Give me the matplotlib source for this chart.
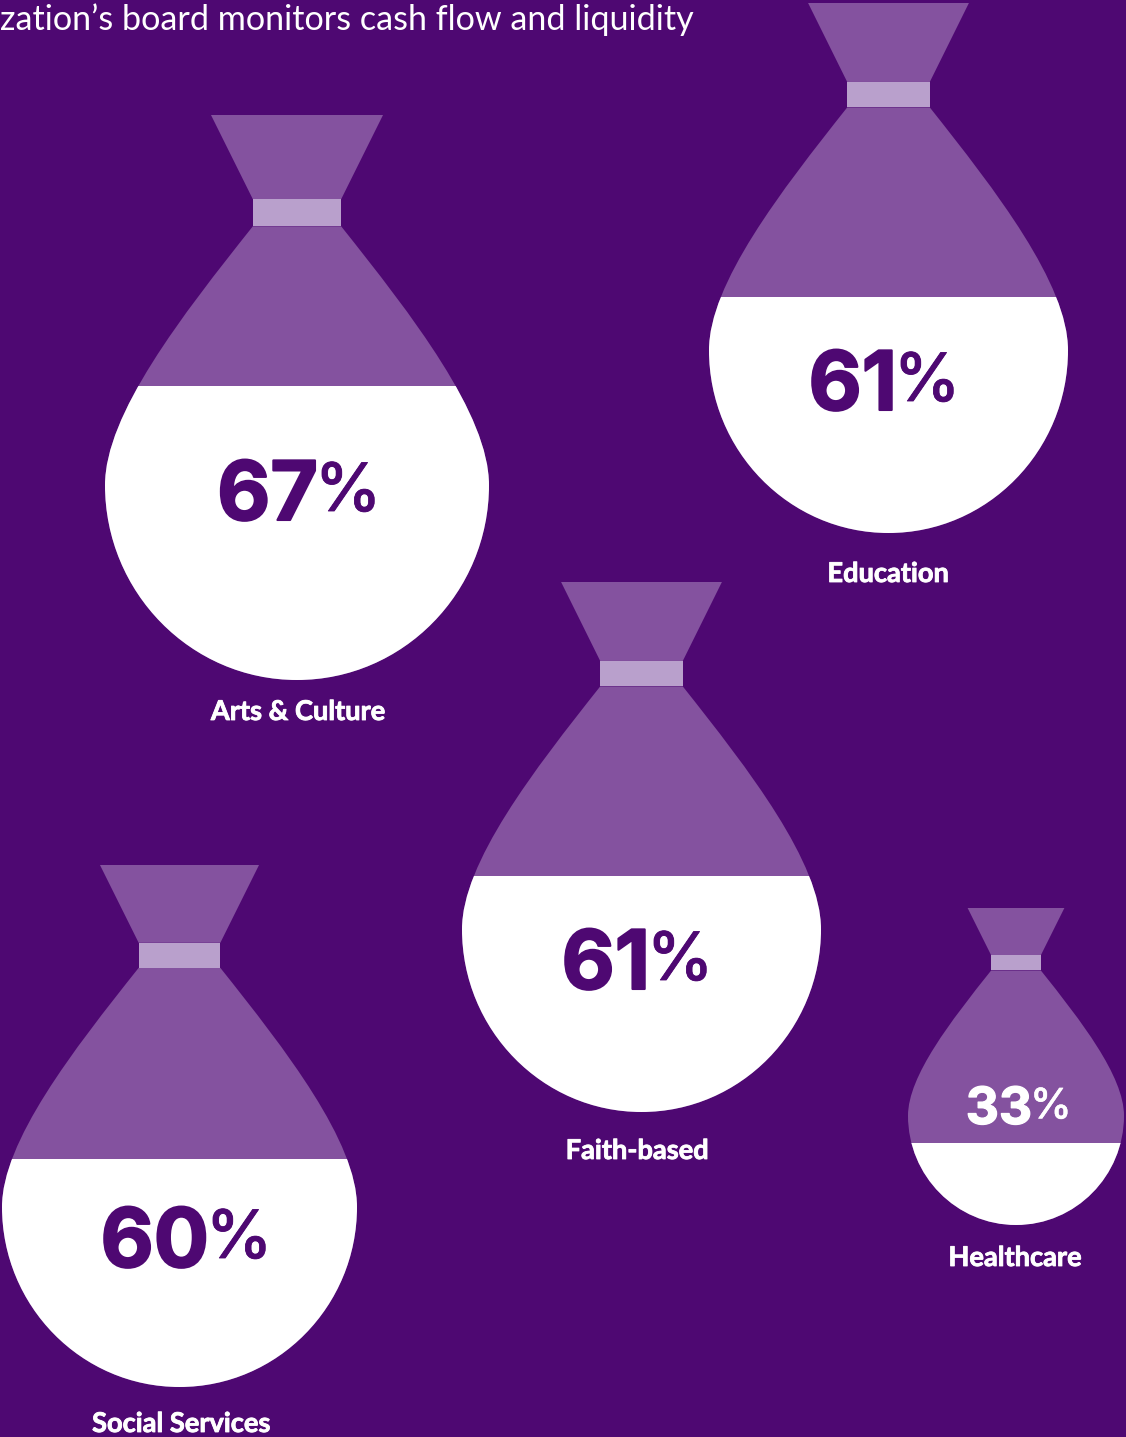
import matplotlib
matplotlib.use("Agg")
import matplotlib.pyplot as plt
import matplotlib.patheffects as pe
from matplotlib.patches import PathPatch, Rectangle, Polygon
from matplotlib.path import Path

# sectors and their percentages
sectors = ["Arts & Culture", "Education", "Faith-based", "Social Services", "Healthcare"]
percent = [67, 61, 61, 60, 33]
# share of the bag body (below the tie) that is filled white
fill_share = [0.648, 0.554, 0.554, 0.545, 0.324]

# bag boxes in page pixels
bag_left = [105, 709, 462, 2, 908]
bag_top = [115, 3, 582, 865, 908]
bag_width = [384, 359, 359, 355, 216]
bag_height = [565, 530, 530, 522, 317]

BG = "#4E0872"
BAG = "#84529F"
TIE = "#B9A0CC"
WHITE = "#FFFFFF"

# bag outline proportions
NECK_Y0 = 0.149
NECK_Y1 = 0.197
NECK_W = 0.115
TOP_W = 0.224
BELLY_Y = 0.655


def body_path(l, t, w, h):
    cx = l + w / 2
    def p(u, v):
        return (cx + u * w, t + v * h)
    verts = [
        p(-NECK_W, NECK_Y1),
        p(-0.30, 0.355), p(-0.50, 0.53), p(-0.50, BELLY_Y),
        p(-0.50, 0.845), p(-0.276, 1.0), p(0, 1.0),
        p(0.276, 1.0), p(0.50, 0.845), p(0.50, BELLY_Y),
        p(0.50, 0.53), p(0.30, 0.355), p(NECK_W, NECK_Y1),
        p(-NECK_W, NECK_Y1),
    ]
    codes = [Path.MOVETO] + [Path.CURVE4] * 12 + [Path.CLOSEPOLY]
    return Path(verts, codes)


def draw_bag(ax, l, t, w, h, share):
    cx = l + w / 2
    neck0 = t + NECK_Y0 * h
    neck1 = t + NECK_Y1 * h
    # funnel above the tie
    ax.add_patch(Polygon([(cx - TOP_W * w, t), (cx + TOP_W * w, t),
                          (cx + NECK_W * w, neck0), (cx - NECK_W * w, neck0)],
                         closed=True, fc=BAG, ec="none"))
    body = PathPatch(body_path(l, t, w, h), fc=BAG, ec="none")
    ax.add_patch(body)
    ax.add_patch(Rectangle((cx - NECK_W * w, neck0), 2 * NECK_W * w, neck1 - neck0,
                           fc=TIE, ec="none"))
    # white fill rises from the bottom of the bag
    bottom = t + h
    level = bottom - share * (bottom - neck1)
    fill = Rectangle((l - 2, level), w + 4, bottom - level + 2, fc=WHITE, ec="none")
    ax.add_patch(fill)
    fill.set_clip_path(body)


fig = plt.figure(figsize=(11.26, 14.37), dpi=100, facecolor=BG)
ax = fig.add_axes([0, 0, 1, 1])
ax.set_xlim(0, 1126)
ax.set_ylim(1437, 0)
ax.axis("off")

ax.text(0, 20, "zation\u2019s board monitors cash flow and liquidity", color=WHITE,
        fontsize=24.6, family="Lato", ha="left", va="center")

# right edge and baseline of the big digits
num_x = [318, 897, 650, 209, 1032]
num_y = [520, 410, 989, 1267, 1124]
num_size = [59, 59, 59, 59, 37]
num_color = [BG, BG, BG, BG, WHITE]
label_x = [298, 888, 637, 181, 1015]
label_y = [712, 574, 1151, 1424, 1258]

for i, name in enumerate(sectors):
    draw_bag(ax, bag_left[i], bag_top[i], bag_width[i], bag_height[i], fill_share[i])
    scale = num_size[i] / 59
    ax.text(num_x[i], num_y[i], str(percent[i]), color=num_color[i], fontsize=num_size[i],
            family="Inter", fontweight="bold", ha="right", va="baseline",
            path_effects=[pe.withStroke(linewidth=1.5 * scale, foreground=num_color[i])])
    # the percent sign sits raised beside the digits
    ax.text(num_x[i] - 3 * scale, num_y[i] - 9 * scale, "%", color=num_color[i],
            fontsize=48 * scale, family="Inter", fontweight="medium", ha="left", va="baseline",
            path_effects=[pe.withStroke(linewidth=0.6 * scale, foreground=num_color[i])])
    ax.text(label_x[i], label_y[i], name, color=WHITE, fontsize=19.6, family="Lato",
            fontweight="bold", ha="center", va="center",
            path_effects=[pe.withStroke(linewidth=0.6, foreground=WHITE)])

fig.savefig("out.png", dpi=100, facecolor=BG)
